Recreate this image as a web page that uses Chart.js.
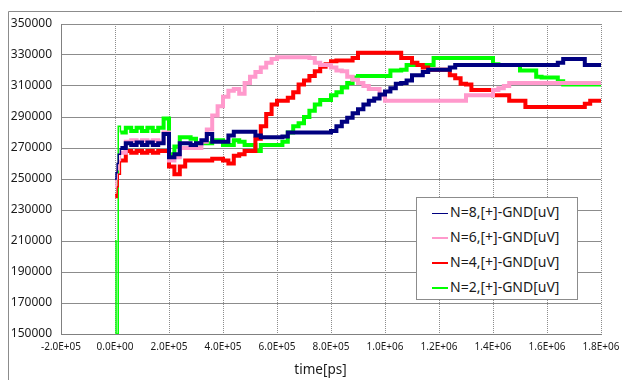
<!DOCTYPE html>
<html><head><meta charset="utf-8">
<script src="https://cdn.jsdelivr.net/npm/chart.js@4/dist/chart.umd.min.js"></script>
<style>
html,body{margin:0;padding:0;background:#fff;}
#wrap{position:relative;width:622px;height:380px;overflow:hidden;}
#c{position:absolute;left:0;top:0;}
#legend{position:absolute;left:416px;top:197px;width:160px;height:101px;border:1px solid #8c8c8c;background:#fff;font-family:"Noto Sans",sans-serif;font-size:14px;color:#1a1a1a;}
.row{position:absolute;left:0;height:25px;line-height:25px;white-space:nowrap;}
.sw{position:absolute;left:15px;width:16px;}
.tx{position:absolute;left:33px;top:0;}
</style></head>
<body>
<div id="wrap"><canvas id="c" width="622" height="380"></canvas><div id="legend"></div></div>
<script>
const times = [0, 4000, 8000, 12000, 20000, 40000, 60000, 80000, 100000, 120000, 140000, 160000, 180000, 200000, 220000, 240000, 260000, 280000, 300000, 320000, 340000, 360000, 380000, 400000, 420000, 440000, 460000, 480000, 500000, 520000, 540000, 560000, 580000, 600000, 620000, 640000, 660000, 680000, 700000, 720000, 740000, 760000, 780000, 800000, 820000, 840000, 860000, 880000, 900000, 920000, 940000, 960000, 980000, 1000000, 1020000, 1040000, 1060000, 1080000, 1100000, 1120000, 1140000, 1160000, 1180000, 1200000, 1220000, 1240000, 1260000, 1280000, 1300000, 1320000, 1340000, 1360000, 1380000, 1400000, 1420000, 1440000, 1460000, 1480000, 1500000, 1520000, 1540000, 1560000, 1580000, 1600000, 1620000, 1640000, 1660000, 1680000, 1700000, 1720000, 1740000, 1760000, 1780000, 1800000];

const seriesLabels = ['N=8,[+]-GND[uV]', 'N=6,[+]-GND[uV]', 'N=4,[+]-GND[uV]', 'N=2,[+]-GND[uV]'];

const n8 = [250000, 254000, 260000, 266000,
270000, 273000, 272000, 273500, 272000, 273500, 272000, 273000, 279000, 264000,
266000, 273000, 273000, 272000, 273000, 275000, 279000, 274000, 274000, 274000,
278000, 280500, 280500, 280500, 280500, 278000, 277000, 277000, 277000, 277000,
277500, 280000, 280000, 280000, 280000, 280000, 280000, 280000, 280000, 281000,
284000, 287000, 289500, 292500, 295000, 298000, 300500, 302000, 304500, 306500,
308500, 311500, 312000, 313500, 317000, 317000, 319000, 320500, 320500, 320500,
320500, 322000, 323500, 323500, 323500, 323500, 323500, 323500, 323500, 323500,
323500, 323500, 323500, 323500, 323500, 323500, 323500, 323500, 323500, 323500,
323500, 325000, 327500, 327500, 327500, 327500, 323500, 323500, 323500, 323500];

const n6 = [245000, 250000, 256000, 262000,
267000, 274000, 275000, 274000, 275000, 274000, 275000, 274000, 280000, 262000,
264000, 270000, 270000, 270000, 270000, 274000, 282000, 291000, 297000, 303000,
307000, 308000, 305000, 312000, 316000, 319000, 322000, 325000, 327500, 328500,
328500, 328500, 328500, 328500, 328500, 328000, 325000, 323500, 323500, 322000,
320000, 319500, 316000, 314000, 312000, 310000, 308000, 308000, 304000, 300500,
300500, 300500, 300500, 300500, 300500, 300500, 300500, 300500, 300500, 300500,
300500, 300500, 300500, 300500, 304000, 304000, 304000, 304000, 304000, 307500,
308500, 310000, 312000, 312000, 312000, 312000, 312000, 312000, 312000, 312000,
312000, 312000, 312000, 312000, 312000, 312000, 312000, 312000, 312000, 312000];

const n4 = [240000, 238000, 245000, 253000,
262000, 268000, 267000, 268000, 267000, 268000, 267000, 268000, 268000, 258000,
253000, 258000, 262000, 262000, 262000, 262000, 262000, 263000, 263000, 262000,
260000, 265000, 266000, 268000, 268000, 276000, 284000, 292000, 298000, 300500,
300500, 302500, 306000, 311000, 313500, 316500, 319500, 322500, 324000, 326000,
326500, 326500, 326500, 328000, 331500, 331500, 331500, 331500, 331500, 331500,
331500, 331500, 328000, 328000, 325000, 323500, 322000, 320500, 320500, 320500,
320500, 317000, 315000, 311500, 311000, 307500, 307500, 307500, 307500, 304000,
304000, 304000, 300500, 300500, 300500, 296500, 296500, 296500, 296500, 296500,
296500, 296500, 296500, 296500, 296500, 296500, 298500, 300500, 300500, 300500];

const n2 = [210000, 150000, 150000, 284000,
280000, 283000, 281000, 283000, 281000, 283000, 281000, 283000, 289000, 266000,
271000, 277000, 277000, 276000, 273000, 273000, 273000, 275000, 275000, 272000,
272000, 275000, 274000, 272000, 272000, 268000, 272000, 272000, 272000, 272000,
274000, 280000, 284000, 286000, 290000, 294000, 298000, 301000, 301000, 304000,
306000, 309000, 312000, 315500, 316500, 316500, 316500, 316500, 316500, 316500,
320000, 320000, 320500, 323500, 323500, 323500, 323500, 323500, 328000, 328000,
328000, 328000, 328000, 328000, 328000, 328000, 328000, 328000, 328000, 324000,
323500, 323500, 323500, 323500, 320000, 320000, 320000, 316000, 315500, 315500,
315500, 313000, 311000, 311000, 311000, 311000, 311000, 311000, 311000, 311000];

const xTickLabels = ['-2.0E+05', '0.0E+00', '2.0E+05', '4.0E+05', '6.0E+05', '8.0E+05', '1.0E+06', '1.2E+06', '1.4E+06', '1.6E+06', '1.8E+06'];
const yTickLabels = ['150000', '170000', '190000', '210000', '230000', '250000', '270000', '290000', '310000', '330000', '350000'];
const xTitle = 'time[ps]';

const colors = ['#000080', '#FF99CC', '#FF0000', '#00FF00'];
const legendWidths = [1, 2, 2, 2];
const allSeries = [n8, n6, n4, n2];

function pts(vals) { return vals.map((v, i) => ({x: times[i], y: v})); }

const frame = {
  id: 'frame',
  beforeDraw(chart) {
    const c = chart.ctx;
    c.save();
    c.fillStyle = '#fff';
    c.fillRect(0, 0, chart.width, chart.height);
    c.strokeStyle = '#8c8c8c';
    c.lineWidth = 1;
    c.beginPath();
    c.moveTo(8.5, 380);
    c.lineTo(8.5, 11.5);
    c.lineTo(622, 11.5);
    c.stroke();
    c.restore();
  }
};

new Chart(document.getElementById('c'), {
  type: 'line',
  data: {
    datasets: allSeries.map((s, i) => ({
      label: seriesLabels[i],
      data: pts(s),
      borderColor: colors[i],
      backgroundColor: colors[i],
      borderWidth: 4,
      segment: {borderWidth: ctx => (ctx.p0DataIndex < 4 ? 1.5 : 4)},
      stepped: true,
      pointRadius: 0,
      fill: false
    }))
  },
  options: {
    responsive: false,
    animation: false,
    events: [],
    layout: {padding: {top: 24, right: 21, left: 0, bottom: 0}},
    plugins: {legend: {display: false}, tooltip: {enabled: false}},
    scales: {
      x: {
        type: 'linear', min: -200000, max: 1800000,
        afterFit: s => { s.height = 46; },
        ticks: {stepSize: 200000, autoSkip: false, maxRotation: 0, padding: 0,
          font: {family: 'Noto Sans', size: 10, lineHeight: 2.6}, color: '#1a1a1a',
          callback: (v, i) => xTickLabels[i]},
        grid: {color: '#8c8c8c', lineWidth: 1, drawTicks: false},
        border: {display: true, color: '#808080', width: 1, dash: [1, 1]},
        title: {display: true, text: xTitle + '      ', font: {family: 'Noto Sans', size: 13.5}, color: '#1a1a1a', padding: {top: 0, bottom: 2}}
      },
      y: {
        min: 150000, max: 350000,
        afterFit: s => { s.width = 61; },
        ticks: {stepSize: 20000, padding: 9, font: {family: 'Noto Sans', size: 12}, color: '#1a1a1a',
          callback: (v, i) => yTickLabels[i]},
        grid: {color: '#8c8c8c', lineWidth: 1, drawTicks: false},
        border: {display: true, color: '#808080', width: 1}
      }
    }
  },
  plugins: [frame]
});

const lg = document.getElementById('legend');
seriesLabels.forEach((lab, i) => {
  const row = document.createElement('div');
  row.className = 'row';
  row.style.top = (1 + i * 25) + 'px';
  row.style.width = '160px';
  const sw = document.createElement('div');
  sw.className = 'sw';
  sw.style.height = legendWidths[i] + 'px';
  sw.style.top = (legendWidths[i] > 1 ? 13 : 14) + 'px';
  sw.style.background = colors[i];
  const tx = document.createElement('span');
  tx.className = 'tx';
  tx.textContent = lab;
  row.appendChild(sw); row.appendChild(tx);
  lg.appendChild(row);
});
</script>
</body></html>
